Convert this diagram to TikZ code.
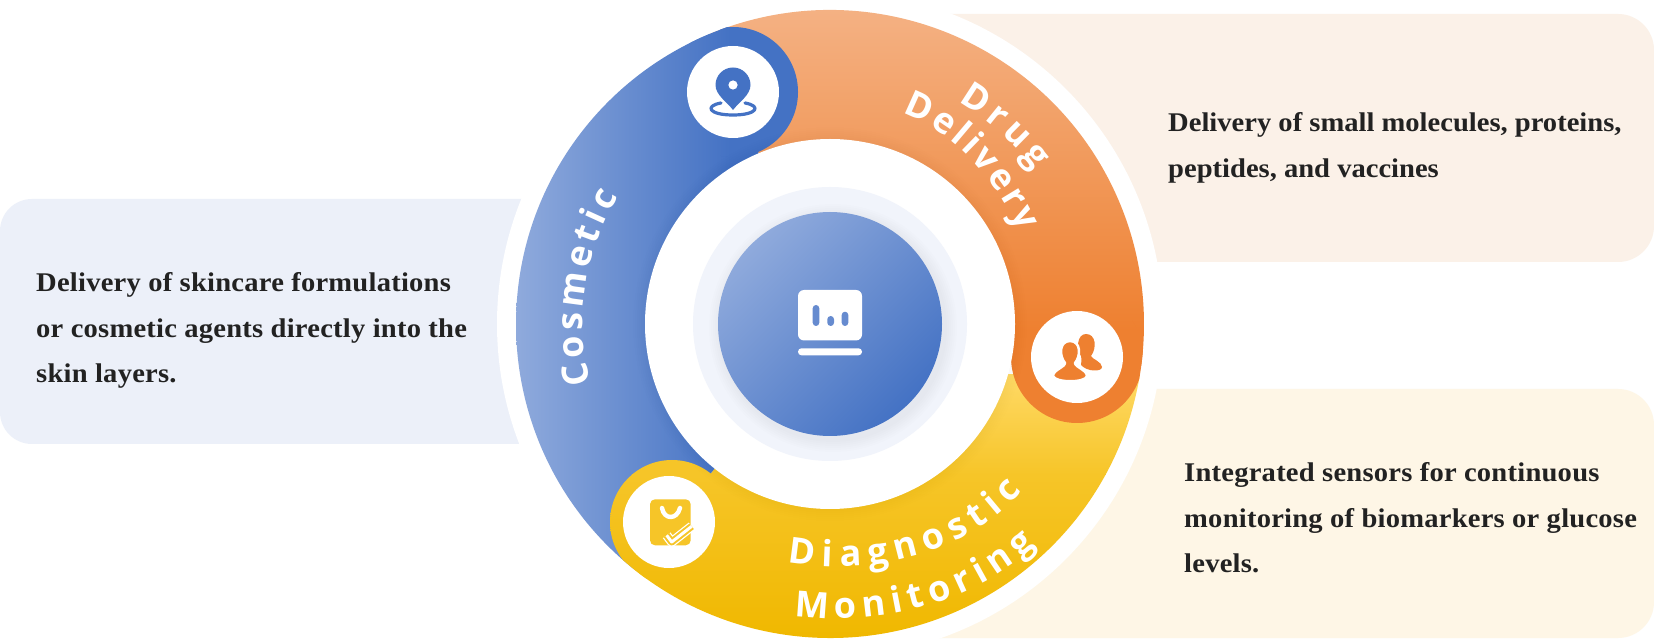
\documentclass[tikz,border=0pt]{standalone}
\usepackage{fontspec}
\usetikzlibrary{decorations.text}
\setmainfont{Liberation Serif}[FakeStretch=1.058]
\newfontfamily\lblfont{Open Sans}
\newcommand\lblstyle{\lblfont\bfseries\fontsize{36}{36}\selectfont\color{white}}
\definecolor{bluelt}{HTML}{8FAADC}
\definecolor{bluedk}{HTML}{4472C4}
\definecolor{orlt}{HTML}{F4B183}
\definecolor{orblob}{HTML}{EE8030}
\definecolor{yellt}{HTML}{FFD966}
\definecolor{yelmid}{HTML}{F6C528}
\definecolor{yeldk}{HTML}{F0B800}
\definecolor{txt}{HTML}{222222}
\definecolor{panelblue}{HTML}{ECF0F9}
\definecolor{panelorange}{HTML}{FBF1E8}
\definecolor{panelyellow}{HTML}{FEF6E6}
\definecolor{halo}{HTML}{F1F4FB}
\tikzset{
  body/.style={anchor=base west,inner sep=0pt,text=txt,font=\fontsize{27}{27}\selectfont\bfseries},
  bodywide/.style={body,font=\fontsize{27}{27}\selectfont\bfseries\addfontfeature{LetterSpace=0.85}},
  sectorlabel/.style={decorate,decoration={text along path,text align={fit to path},text={|\lblstyle|#1}}},
  orangeshade/.style={top color=orlt,bottom color=orblob},
  blueshade/.style={left color=bluelt,right color=bluedk}
}
\begin{document}
\begin{tikzpicture}[x=1pt,y=1pt,line cap=round,line join=round]
\useasboundingbox (0,0) rectangle (1654,640);
\fill[white] (0,0) rectangle (1654,640);
\coordinate (c) at (830,316);
% panels
\fill[panelblue,rounded corners=32pt] (560,441) -- (0,441) -- (0,196) -- (560,196) -- cycle;
\fill[panelorange,rounded corners=36pt] (900,626) -- (1654,626) -- (1654,378) -- (900,378) -- cycle;
\fill[panelyellow,rounded corners=36pt] (900,251) -- (1654,251) -- (1654,2) -- (900,2) -- cycle;
% white ring
\fill[white] (c) circle (333);
% sectors
\begin{scope}
\clip (c) -- ++(112.7:314) arc (112.7:-7.6:314) -- cycle;
\fill[orblob] (500,200) rectangle (1160,320);
\shade[orangeshade] (500,310) rectangle (1160,630);
\end{scope}
\begin{scope}
\clip (c) -- ++(-7.6:314) arc (-7.6:-128.6:314) -- cycle;
\shade[top color=yellt,bottom color=yelmid] (500,165) rectangle (1160,265);
\shade[top color=yelmid,bottom color=yeldk] (500,2) rectangle (1160,165);
\end{scope}
\begin{scope}
\clip (c) -- ++(231.4:314) arc (231.4:112.7:314) -- cycle;
\fill[bluedk] (720,0) rectangle (900,640);
\shade[blueshade] (516,0) rectangle (730,640);
\end{scope}
% blobs
\begin{scope}
\clip (c) circle (314);
\begin{scope}
\clip (733,548) circle (65);
\fill[bluedk] (720,470) rectangle (810,625);
\shade[blueshade] (516,0) rectangle (730,640);
\end{scope}
\begin{scope}
\clip (1077,283) circle (66);
\fill[orblob] (1000,200) rectangle (1160,320);
\shade[orangeshade] (500,310) rectangle (1160,630);
\end{scope}
\clip (672,118) circle (62);
\fill[yelmid] (600,165) rectangle (740,190);
\shade[top color=yelmid,bottom color=yeldk] (500,2) rectangle (1160,165);
\end{scope}
% white disc with soft shadow
\foreach \i in {1,...,6} \fill[black,opacity=.005] (c) circle (185+2*\i);
\fill[white] (c) circle (185);
% halo and hub
\fill[halo] (c) circle (137);
\foreach \i in {1,...,6} \fill[black,opacity=.006] (833,312) circle (112+2*\i);
\shade[shading=axis,left color=bluelt,right color=bluedk,shading angle=45] (c) circle (112);
% hub icon
\fill[white,rounded corners=6pt] (798,350) rectangle (862,299.5);
\fill[white,rounded corners=3.4pt] (798,291.7) rectangle (862,284.7);
\fill[bluelt!45!bluedk,rounded corners=3.3pt] (812.7,335) rectangle (819.3,314);
\fill[bluelt!45!bluedk,rounded corners=3.3pt] (827.3,324) rectangle (834,314);
\fill[bluelt!45!bluedk,rounded corners=3.3pt] (841.7,328.3) rectangle (848.3,314);
% icon circles
\fill[white] (733,548) circle (46);
\fill[white] (1077,283) circle (46);
\fill[white] (669,118) circle (46);
% pin
\begin{scope}[shift={(733,548)}]
\draw[bluedk,line width=3.2pt] (-12,-11) .. controls (-29,-14) and (-24,-23) .. (0,-23) .. controls (24,-23) and (29,-14) .. (12,-11);
\fill[white] (-12,-8) -- (12,-8) -- (0,-21) -- cycle;
\fill[bluedk] (0,-18) .. controls (-6,-10) and (-17.5,-3) .. (-17.5,7) arc (180:0:17.5) .. controls (17.5,-3) and (6,-10) .. (0,-18) -- cycle;
\fill[white] (0,7) circle (4.6);
\end{scope}
% people
\begin{scope}[shift={(1077,283)}]
\fill[orblob] (9,23) .. controls (0,23) and (-1,8) .. (4,1) .. controls (5,-3) and (4,-6) .. (4,-8)
  .. controls (10,-15) and (25,-15) .. (25,-10) .. controls (25,-5) and (15,-2) .. (14,1) .. controls (20,9) and (19,23) .. (9,23) -- cycle;
\draw[white,line width=2.5pt,fill=orblob] (-7,16) .. controls (-18,16) and (-18,1) .. (-12,-6) .. controls (-12,-10) and (-24,-13) .. (-24,-19)
  .. controls (-22,-26) and (9,-26) .. (10,-19) .. controls (10,-13) and (-2,-10) .. (-2,-6) .. controls (4,1) and (4,16) .. (-7,16) -- cycle;
\end{scope}
% bag
\begin{scope}[shift={(669,118)}]
\fill[yelmid,rounded corners=5pt] (-19,22.7) rectangle (21.7,-23.3);
\draw[white,line width=4.4pt] (-7,14) .. controls (-5,2) and (8,2) .. (11,14);
\draw[white,line width=9.5pt,line cap=butt] (-2.3,-13.3) -- (2.7,-20) -- (22.7,-4.3);
\draw[yelmid,line width=7pt,line cap=butt] (-2.3,-13.3) -- (2.7,-20) -- (22.7,-4.3);
\draw[white,line width=3pt,line cap=butt] (-2.3,-13.3) -- (2.7,-20) -- (22.7,-4.3);
\end{scope}
% arc labels
\path[sectorlabel=Cosmetic] (c) ++(194:247) arc (194:149:247);
\path[sectorlabel=Drug] (c) ++(60:256) arc (60:37:256);
\path[sectorlabel=Delivery] (902.6,526.9) .. controls (956.5,508.3) and (994.6,459.5) .. (1019.6,408.5);
\path[sectorlabel=Diagnostic] (788,77.7) .. controls (871.7,62.9) and (965.9,85.2) .. (1021.7,149.4);
\path[sectorlabel=Monitoring] (794.2,24.2) .. controls (880.5,13.6) and (972.4,35.8) .. (1036,95.1);
% body text
\node[body] (t1a) at (1168,508) {Delivery of small molecules, proteins,};
\node[body] (t1b) at (1168,462) {peptides, and vaccines};
\node[bodywide] (t2a) at (36,348) {Delivery of skincare formulations};
\node[bodywide] (t2b) at (36,302) {or cosmetic agents directly into the};
\node[bodywide] (t2c) at (36,257) {skin layers.};
\node[bodywide] (t3a) at (1184,158) {Integrated sensors for continuous};
\node[bodywide] (t3b) at (1184,113) {monitoring of biomarkers or glucose};
\node[bodywide] (t3c) at (1184,67) {levels.};
\end{tikzpicture}
\end{document}
